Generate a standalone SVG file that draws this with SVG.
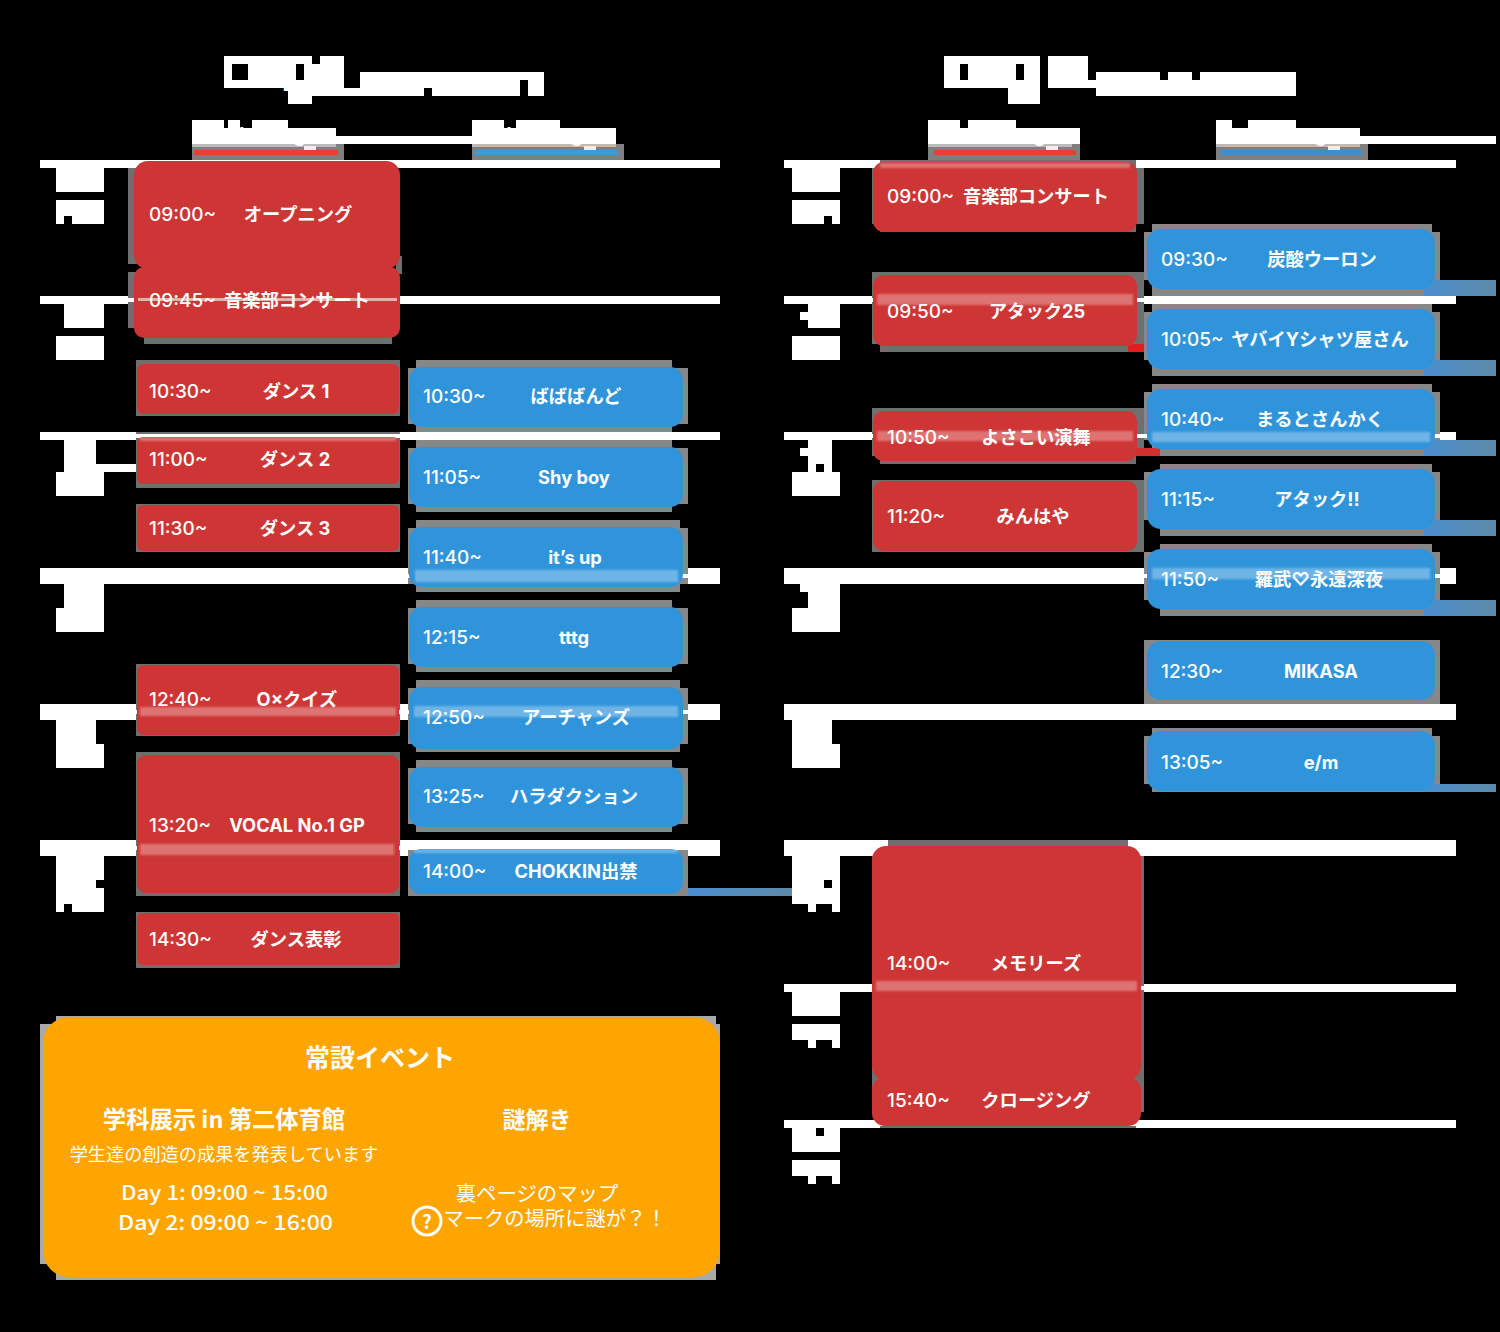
<svg xmlns="http://www.w3.org/2000/svg" width="1500" height="1332" viewBox="0 0 1500 1332">
<style>
.w{fill:#fff}
.k{fill:#000}
.sr{fill:#6f6f6f}
.sb{fill:#878787}
.so{fill:#a9a9a9}
.r{fill:#ce3636}
.b{fill:#3094db}
.st{fill:#fff;fill-opacity:.3;filter:url(#soft)}
text{fill:#fff;font-family:"Inter","Noto Sans CJK JP",sans-serif}
.t{font-size:19px;font-weight:500;dominant-baseline:central;transform:translateY(.8px)}
.n{font-size:18.3px;font-weight:700;text-anchor:middle;dominant-baseline:central;font-family:"Inter","Noto Sans CJK JP",sans-serif}
.hd{font-weight:700;font-family:"Liberation Sans",sans-serif}
.c{text-anchor:middle;dominant-baseline:central;font-family:"Noto Sans CJK JP",sans-serif}
</style>
<defs><filter id="soft" x="-5%" y="-60%" width="110%" height="220%"><feGaussianBlur stdDeviation="1.2"/></filter>
<linearGradient id="tg" x1="0" x2="1" y1="0" y2="0"><stop offset="0" stop-color="#4a8fd0"/><stop offset="1" stop-color="#5f8aa8"/></linearGradient></defs>
<rect width="1500" height="1332" fill="#000"/>

<g id="grid-lines" class="w">
<rect x="40" y="160" width="680" height="8"/><rect x="40" y="296" width="680" height="8"/><rect x="40" y="432" width="680" height="8"/><rect x="40" y="568" width="680" height="16"/><rect x="40" y="704" width="680" height="16"/><rect x="40" y="840" width="680" height="16"/>
<rect x="784" y="160" width="672" height="8"/><rect x="784" y="296" width="672" height="8"/><rect x="784" y="432" width="672" height="8"/><rect x="784" y="568" width="672" height="16"/><rect x="784" y="704" width="672" height="16"/><rect x="784" y="840" width="672" height="16"/><rect x="784" y="984" width="672" height="8"/><rect x="784" y="1120" width="672" height="8"/>
</g>

<g id="time-labels" class="w">
<path d="M56 168H104V192H56ZM56 200H104V224H72V216H64V224H56Z"/>
<path d="M64 304H104V328H64ZM56 336H104V360H56Z"/>
<path d="M64 440H96V464H136V472H104V496H56V472H64Z"/>
<path d="M64 584H104V632H56V608H64Z"/>
<path d="M56 720H96V744H104V768H56Z"/>
<path d="M56 856H104V880H96V888H104V912H72V904H64V912H56Z"/>
<path d="M792 168H840V192H792ZM792 200H840V224H832V216H824V224H792Z"/>
<path d="M808 304H840V328H808V320H800V312H808ZM792 336H840V360H792Z"/>
<path fill-rule="evenodd" d="M808 440H832V472H840V496H792V472H808V456H800V448H808ZM816 464V472H824V464Z"/>
<path d="M808 584H840V632H792V608H808V592H800V584H808Z"/>
<path d="M792 720H832V744H840V768H792Z"/>
<path fill-rule="evenodd" d="M792 856H840V912H832V904H816V912H808V904H792ZM824 880V888H832V880Z"/>
<path d="M792 992H840V1016H792ZM792 1024H840V1048H832V1040H816V1048H808V1040H792Z"/>
<path d="M792 1128H816V1136H824V1128H840V1152H792ZM792 1160H840V1184H832V1176H816V1184H808V1176H792Z"/>
</g>

<g id="day1-heading">
<path class="w" d="M224 56H312V64H320V56H344V88H360V72H544V96H528V80H520V96H432V88H424V96H312V104H288V88H224Z"/>
<text class="hd" x="226" y="84" font-size="34" textLength="116" lengthAdjust="spacingAndGlyphs">Day 1</text>
<rect class="k" x="232" y="64" width="16" height="16"/><rect class="k" x="296" y="64" width="8" height="16"/>
</g>
<g id="day2-heading">
<path class="w" d="M944 56H1040V104H1008V88H944ZM1048 56H1088V80H1096V72H1160V80H1168V72H1192V80H1200V72H1296V96H1096V88H1048Z"/>
<text class="hd" x="946" y="84" font-size="34" textLength="136" lengthAdjust="spacing">Day 2</text>
<rect class="k" x="960" y="64" width="8" height="16"/><rect class="k" x="1016" y="64" width="8" height="16"/><rect class="k" x="1040" y="56" width="8" height="32"/>
</g>

<g id="stage-headings">
<rect class="w" x="336" y="136" width="136" height="8"/>
<rect class="w" x="1360" y="136" width="136" height="8"/>
<g id="head-main1"><path class="w" d="M192 128V120H224V128H228V120H240V128H252V120H288V128H336V144H192Z"/><rect x="192" y="144" width="152" height="16" fill="#7f7f7f"/><rect x="192" y="144" width="144" height="3" fill="#bbb"/><rect x="304" y="146" width="12" height="4" fill="#eee"/><rect x="194" y="150" width="144" height="5" fill="#e2432d"/><text class="hd" x="264" y="142" font-size="20" text-anchor="middle">Main Stage</text></g>
<g id="head-live1"><path class="w" d="M472 128V120H504V128H516V120H560V128H616V144H472Z"/><rect x="472" y="144" width="152" height="16" fill="#7f7f7f"/><rect x="472" y="144" width="144" height="3" fill="#bbb"/><rect x="584" y="146" width="12" height="4" fill="#eee"/><rect x="474" y="150" width="144" height="5" fill="#3a9bdc"/><text class="hd" x="544" y="142" font-size="20" text-anchor="middle">Live Stage</text></g>
<g id="head-main2"><path class="w" d="M928 128V120H960V128H968V120H1016V128H1080V144H928Z"/><rect x="928" y="144" width="152" height="16" fill="#7f7f7f"/><rect x="928" y="144" width="144" height="3" fill="#bbb"/><rect x="1046" y="146" width="12" height="4" fill="#eee"/><rect x="934" y="150" width="142" height="5" fill="#e2432d"/><text class="hd" x="1004" y="142" font-size="20" text-anchor="middle">Main Stage</text></g>
<g id="head-live2"><path class="w" d="M1216 128V120H1232V128H1248V120H1296V128H1360V144H1216Z"/><rect x="1216" y="144" width="152" height="16" fill="#7f7f7f"/><rect x="1216" y="144" width="144" height="3" fill="#bbb"/><rect x="1328" y="146" width="12" height="4" fill="#eee"/><rect x="1220" y="150" width="142" height="5" fill="#3a8fd0"/><text class="hd" x="1288" y="142" font-size="20" text-anchor="middle">Live Stage</text></g>
</g>

<g id="shadows">
<g class="sr">
<rect x="128" y="168" width="10" height="96"/><rect x="128" y="272" width="10" height="56"/><rect x="144" y="330" width="248" height="14"/><rect x="396" y="256" width="6" height="18"/>
<rect x="136" y="360" width="264" height="56"/><rect x="136" y="432" width="264" height="56"/><rect x="136" y="504" width="264" height="48"/><rect x="136" y="664" width="264" height="72"/><rect x="136" y="752" width="264" height="144"/><rect x="136" y="912" width="264" height="56"/>
<rect x="872" y="168" width="272" height="56"/><rect x="880" y="160" width="256" height="72"/>
<rect x="872" y="272" width="272" height="72"/><rect x="880" y="344" width="256" height="8"/>
<rect x="872" y="408" width="272" height="48"/><rect x="880" y="448" width="256" height="16"/>
<rect x="872" y="480" width="272" height="72"/>
<rect x="888" y="840" width="240" height="10"/><rect x="872" y="856" width="272" height="256"/><rect x="880" y="1112" width="256" height="16"/>
</g>
<g class="sb">
<rect x="408" y="368" width="280" height="56"/><rect x="416" y="360" width="256" height="72"/>
<rect x="408" y="448" width="280" height="56"/><rect x="416" y="440" width="256" height="72"/>
<rect x="408" y="528" width="280" height="56"/><rect x="416" y="520" width="264" height="72"/>
<rect x="408" y="608" width="280" height="56"/><rect x="416" y="600" width="256" height="72"/>
<rect x="408" y="688" width="280" height="56"/><rect x="416" y="680" width="264" height="72"/>
<rect x="408" y="768" width="280" height="56"/><rect x="416" y="760" width="256" height="72"/>
<rect x="408" y="848" width="280" height="48"/>
<rect x="1144" y="232" width="296" height="48"/><rect x="1152" y="224" width="280" height="72"/>
<rect x="1144" y="312" width="296" height="48"/><rect x="1152" y="304" width="280" height="72"/>
<rect x="1144" y="392" width="296" height="48"/><rect x="1152" y="384" width="280" height="72"/>
<rect x="1144" y="472" width="296" height="48"/><rect x="1160" y="464" width="272" height="72"/>
<rect x="1144" y="552" width="296" height="48"/><rect x="1160" y="544" width="272" height="72"/>
<rect x="1144" y="640" width="296" height="64"/>
<rect x="1144" y="736" width="296" height="48"/><rect x="1152" y="728" width="280" height="64"/>
</g>
<g class="so"><rect x="40" y="1024" width="680" height="240"/><rect x="56" y="1016" width="660" height="264"/></g>
</g>

<g id="connectors">
<g class="w">
<rect x="40" y="298" width="680" height="4"/><rect x="40" y="434" width="680" height="4"/><rect x="40" y="574" width="680" height="4"/><rect x="40" y="710" width="680" height="4"/><rect x="40" y="846" width="680" height="4"/>
<rect x="784" y="298" width="672" height="4"/><rect x="784" y="434" width="672" height="4"/><rect x="784" y="574" width="672" height="4"/><rect x="784" y="710" width="672" height="4"/><rect x="784" y="846" width="672" height="4"/><rect x="784" y="986" width="672" height="4"/><rect x="784" y="1122" width="672" height="4"/>
</g>
<g fill="url(#tg)">
<rect x="1424" y="280" width="72" height="16"/><rect x="1424" y="360" width="72" height="16"/><rect x="1424" y="440" width="72" height="16"/><rect x="1424" y="520" width="72" height="16"/><rect x="1424" y="600" width="72" height="16"/><rect x="1424" y="784" width="72" height="8"/><rect x="688" y="888" width="104" height="8"/>
</g>
<rect x="1128" y="344" width="16" height="8" fill="#e01e1e"/>
<rect x="1136" y="448" width="24" height="8" fill="#d42f2f"/>
</g>

<g id="n1-opening"><rect class="r" x="134" y="161" width="266" height="108" rx="14"/><text class="t" x="149" y="214">09:00~</text><text class="n" x="298" y="214">オープニング</text></g>
<g id="n1-concert"><rect class="r" x="134" y="267" width="266" height="71" rx="10"/><rect x="138" y="298" width="259" height="3" fill="#fff" fill-opacity=".6"/><text class="t" x="149" y="300">09:45~</text><text class="n" x="297" y="300">音楽部コンサート</text></g>
<g id="n1-dance1"><rect class="r" x="137" y="364" width="262" height="50" rx="6"/><text class="t" x="149" y="391">10:30~</text><text class="n" x="296" y="391">ダンス 1</text></g>
<g id="n1-dance2"><rect class="r" x="137" y="437" width="262" height="47" rx="6"/><rect class="st" x="140" y="437" width="256" height="4"/><text class="t" x="149" y="459">11:00~</text><text class="n" x="295" y="459">ダンス 2</text></g>
<g id="n1-dance3"><rect class="r" x="137" y="505" width="262" height="46" rx="6"/><text class="t" x="149" y="528">11:30~</text><text class="n" x="295" y="528">ダンス 3</text></g>
<g id="n1-quiz"><rect class="r" x="137" y="665" width="262" height="70" rx="7"/><rect class="st" x="140" y="707" width="256" height="9"/><text class="t" x="149" y="699">12:40~</text><text class="n" x="297" y="699">O×クイズ</text></g>
<g id="n1-vocal"><rect class="r" x="137" y="755" width="262" height="138" rx="9"/><rect class="st" x="140" y="844" width="254" height="11"/><text class="t" x="149" y="825">13:20~</text><text class="n" x="297" y="825">VOCAL No.1 GP</text></g>
<g id="n1-award"><rect class="r" x="137" y="913" width="262" height="52" rx="5"/><text class="t" x="149" y="939">14:30~</text><text class="n" x="296" y="939">ダンス表彰</text></g>

<g id="n1-l1"><rect class="b" x="409" y="367" width="274" height="60" rx="13"/><text class="t" x="423" y="396">10:30~</text><text class="n" x="576" y="396">ばばばんど</text></g>
<g id="n1-l2"><rect class="b" x="409" y="447" width="274" height="60" rx="13"/><text class="t" x="423" y="477">11:05~</text><text class="n" x="574" y="477">Shy boy</text></g>
<g id="n1-l3"><rect class="b" x="409" y="527" width="274" height="60" rx="13"/><rect class="st" x="415" y="570" width="263" height="12"/><text class="t" x="423" y="557">11:40~</text><text class="n" x="575" y="557">it’s up</text></g>
<g id="n1-l4"><rect class="b" x="409" y="607" width="274" height="60" rx="13"/><text class="t" x="423" y="637">12:15~</text><text class="n" x="574" y="637">tttg</text></g>
<g id="n1-l5"><rect class="b" x="409" y="687" width="274" height="62" rx="13"/><rect class="st" x="414" y="706" width="264" height="11"/><text class="t" x="423" y="717">12:50~</text><text class="n" x="576" y="717">アーチャンズ</text></g>
<g id="n1-l6"><rect class="b" x="409" y="767" width="274" height="60" rx="13"/><text class="t" x="423" y="796">13:25~</text><text class="n" x="574" y="796">ハラダクション</text></g>
<g id="n1-l7"><rect class="b" x="409" y="849" width="274" height="45" rx="12"/><rect class="st" x="414" y="849" width="264" height="4"/><text class="t" x="423" y="871">14:00~</text><text class="n" x="576" y="871">CHOKKIN出禁</text></g>

<g id="n2-concert"><rect class="r" x="873" y="162" width="264" height="70" rx="11"/><rect class="st" x="880" y="163" width="250" height="5"/><text class="t" x="887" y="196">09:00~</text><text class="n" x="1036" y="196">音楽部コンサート</text></g>
<g id="n2-attack"><rect class="r" x="873" y="275" width="264" height="71" rx="11"/><rect class="st" x="877" y="294" width="256" height="11"/><text class="t" x="887" y="311">09:50~</text><text class="n" x="1037" y="311">アタック25</text></g>
<g id="n2-yosakoi"><rect class="r" x="873" y="411" width="264" height="50" rx="10"/><rect class="st" x="877" y="431" width="256" height="10"/><text class="t" x="887" y="437">10:50~</text><text class="n" x="1036" y="437">よさこい演舞</text></g>
<g id="n2-minhaya"><rect class="r" x="873" y="481" width="264" height="70" rx="10"/><text class="t" x="887" y="516">11:20~</text><text class="n" x="1033" y="516">みんはや</text></g>
<g id="n2-memories"><rect class="r" x="872" y="846" width="269" height="234" rx="14"/><rect class="st" x="876" y="981" width="261" height="10"/><text class="t" x="887" y="963">14:00~</text><text class="n" x="1036" y="963">メモリーズ</text></g>
<g id="n2-closing"><rect class="r" x="872" y="1077" width="269" height="49" rx="13"/><text class="t" x="887" y="1100">15:40~</text><text class="n" x="1036" y="1100">クロージング</text></g>

<g id="n2-l1"><rect class="b" x="1147" y="229" width="288" height="60" rx="14"/><text class="t" x="1161" y="259">09:30~</text><text class="n" x="1322" y="259">炭酸ウーロン</text></g>
<g id="n2-l2"><rect class="b" x="1147" y="309" width="288" height="60" rx="14"/><text class="t" x="1161" y="339">10:05~</text><text class="n" x="1320" y="339">ヤバイYシャツ屋さん</text></g>
<g id="n2-l3"><rect class="b" x="1147" y="389" width="288" height="60" rx="14"/><rect class="st" x="1152" y="432" width="278" height="10"/><text class="t" x="1161" y="419">10:40~</text><text class="n" x="1320" y="419">まるとさんかく</text></g>
<g id="n2-l4"><rect class="b" x="1147" y="469" width="288" height="60" rx="14"/><text class="t" x="1161" y="499">11:15~</text><text class="n" x="1317" y="499">アタック!!</text></g>
<g id="n2-l5"><rect class="b" x="1147" y="549" width="288" height="60" rx="14"/><rect class="st" x="1152" y="568" width="278" height="11"/><text class="t" x="1161" y="579">11:50~</text><text class="n" x="1319" y="579">羅武♡永遠深夜</text></g>
<g id="n2-l6"><rect class="b" x="1147" y="641" width="288" height="59" rx="14"/><text class="t" x="1161" y="671">12:30~</text><text class="n" x="1321" y="671">MIKASA</text></g>
<g id="n2-l7"><rect class="b" x="1147" y="731" width="288" height="60" rx="14"/><text class="t" x="1161" y="762">13:05~</text><text class="n" x="1321" y="762">e/m</text></g>

<g id="permanent-events">
<rect x="43" y="1017" width="677" height="260" rx="26" fill="#ffa500"/>
<text class="c" x="380" y="1056" font-size="25" font-weight="700">常設イベント</text>
<text class="c" x="224" y="1118" font-size="23.300" font-weight="700">学科展示 in 第二体育館</text>
<text class="c" x="537" y="1118" font-size="23" font-weight="700">謎解き</text>
<text class="c" x="224" y="1153" font-size="18.200">学生達の創造の成果を発表しています</text>
<text class="c" x="224.500" y="1191" font-size="20" font-weight="500" textLength="207" lengthAdjust="spacingAndGlyphs">Day 1:  09:00 ~ 15:00</text>
<text class="c" x="225.500" y="1221" font-size="20" font-weight="500" textLength="215" lengthAdjust="spacingAndGlyphs">Day 2:  09:00 ~ 16:00</text>
<text class="c" x="537" y="1192" font-size="20.400">裏ページのマップ</text>
<text class="c" x="555" y="1217" font-size="20.300">マークの場所に謎が？！</text>
<circle cx="427" cy="1221" r="14" fill="none" stroke="#fff" stroke-width="3"/>
<text class="c" x="427" y="1220" font-size="19" font-weight="700">?</text>
</g>
</svg>
